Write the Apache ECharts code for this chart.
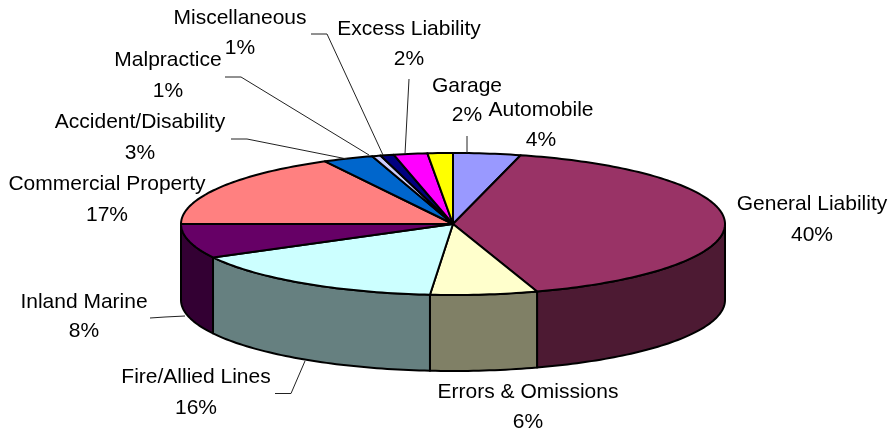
<!DOCTYPE html>
<html>
<head>
<meta charset="utf-8">
<style>html,body{margin:0;padding:0;background:#fff}#c{width:892px;height:434px}</style>
<script src="https://cdn.jsdelivr.net/npm/echarts@6/dist/echarts.min.js"></script>
</head>
<body>
<div id="c"></div>
<script>
// clockwise from 12 o'clock
const categories = ['Automobile','General Liability','Errors & Omissions','Fire/Allied Lines','Inland Marine','Commercial Property','Accident/Disability','Malpractice','Miscellaneous','Excess Liability','Garage'];
const shares = [4.0,41.0,6.35,15.85,7.8,17.2,3.0,0.5,0.8,2.0,1.5];
const percentLabels = ['4%','40%','6%','16%','8%','17%','3%','1%','1%','2%','2%'];
const topColors = ['#9999FF','#993366','#FFFFCC','#CCFFFF','#660066','#FF8080','#0066CC','#CCCCFF','#000080','#FF00FF','#FFFF00'];
const wallColors = ['#4D4D80','#4D1A33','#808066','#668080','#330033','#804040','#003366','#666680','#000040','#800080','#808000'];
// label centres: name line x,y then percent line y
const labelX = [541,812,528,196,84,107,140,168,240,409,467];
const labelY1 = [110,204,392,377,302,184,122,60,18,29,86];
const labelY2 = [140,235,422,408,331,215,153,91,48,59,115];
const leaders = [
  [[467,136],[467,153]],
  [[150,318],[165,317],[185,316]],
  [[275,393.5],[291,393.5],[305,361]],
  [[231,139],[247,139],[347,159]],
  [[225,77],[241,77],[369,155]],
  [[311,34],[327,34],[383,155]],
  [[409,79],[405,154]]
];
const cx = 453, cy = 224, rx = 272, ry = 71, depth = 76;
const total = shares.reduce((a, b) => a + b, 0);
const startOf = i => shares.slice(0, i).reduce((a, b) => a + b, 0) / total * Math.PI * 2;
const rim = (t, dy) => [cx + rx * Math.sin(t), cy - ry * Math.cos(t) + (dy || 0)];
function arc(a, b, dy) {
  const n = Math.max(2, Math.ceil((b - a) / 0.02)), out = [];
  for (let k = 0; k <= n; k++) out.push(rim(a + (b - a) * k / n, dy));
  return out;
}
const font = 'Arial, "Liberation Sans", sans-serif';
const textEl = (text, x, y) => ({
  type: 'text', z2: 20,
  style: { text, x, y, fill: '#000', font: '21px ' + font, align: 'center', verticalAlign: 'middle' }
});
function renderSlice(params, api) {
  const i = params.dataIndex;
  const a = startOf(i), b = a + api.value(0) / total * Math.PI * 2;
  const children = [];
  const wa = Math.max(a, Math.PI / 2), wb = Math.min(b, Math.PI * 1.5);
  if (wb > wa) {
    const points = arc(wa, wb, 0).concat(arc(wa, wb, depth).reverse());
    children.push({ type: 'polygon', z2: 1, shape: { points },
      style: { fill: wallColors[i], stroke: '#000', lineWidth: 2, lineJoin: 'round' } });
  }
  children.push({ type: 'polygon', z2: 2, shape: { points: [[cx, cy]].concat(arc(a, b, 0)) },
    style: { fill: topColors[i], stroke: '#000', lineWidth: 2, lineJoin: 'round' } });
  children.push(textEl(categories[i], labelX[i], labelY1[i]));
  children.push(textEl(percentLabels[i], labelX[i], labelY2[i]));
  return { type: 'group', children };
}
const chart = echarts.init(document.getElementById('c'), null, { renderer: 'canvas' });
chart.setOption({
  animation: false,
  backgroundColor: '#fff',
  graphic: leaders.map(points => ({
    type: 'polyline', z: 5, shape: { points }, style: { fill: null, stroke: '#222', lineWidth: 1 }
  })),
  series: [{
    type: 'custom', coordinateSystem: 'none', renderItem: renderSlice, z: 2,
    data: shares.map((v, i) => ({ name: categories[i], value: [v] }))
  }]
});
</script>
</body>
</html>
